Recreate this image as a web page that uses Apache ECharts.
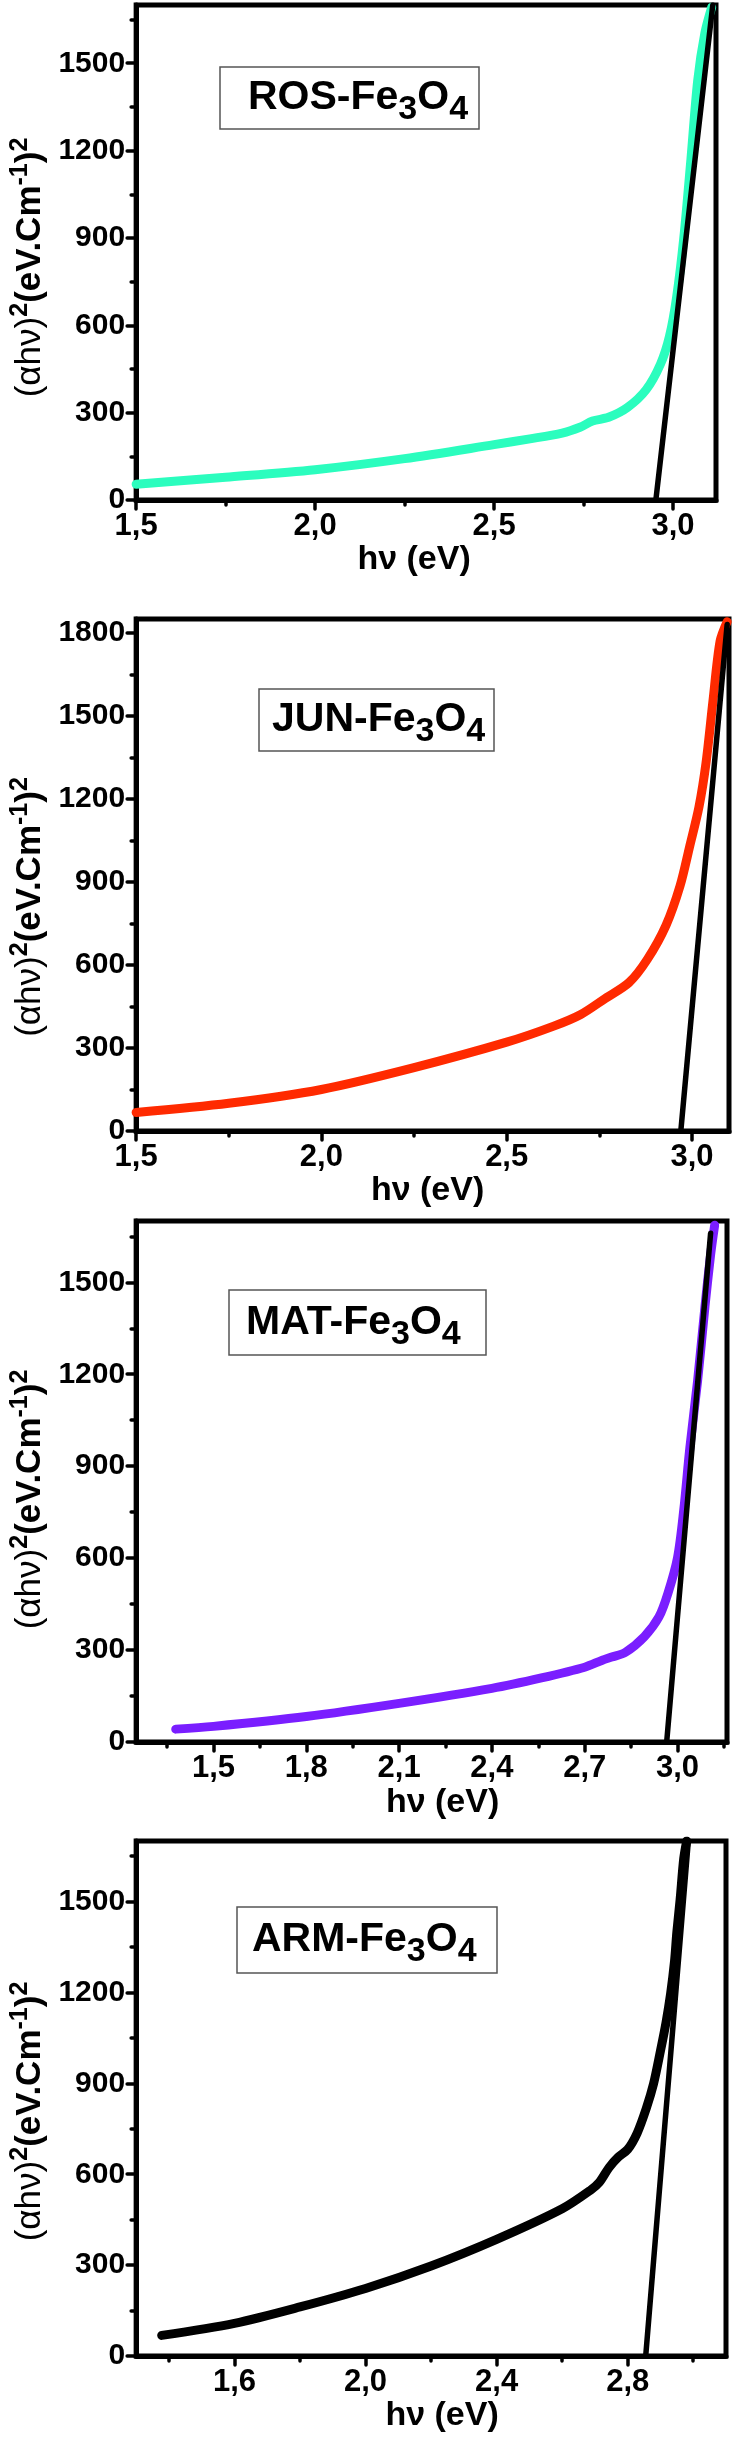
<!DOCTYPE html>
<html><head><meta charset="utf-8">
<script src="https://cdn.jsdelivr.net/npm/echarts@6/dist/echarts.min.js"></script>
<style>html,body{margin:0;padding:0;background:#fff}#c{width:733px;height:2437px}</style>
</head><body><div id="c"></div>
<script>
// ---------- data ----------
const sampleNames = ['ROS', 'JUN', 'MAT', 'ARM'];
const rosX = [1.5, 1.75, 2.0, 2.25, 2.5, 2.6, 2.69, 2.74, 2.775, 2.82, 2.873, 2.925, 2.965, 2.99, 3.01, 3.03, 3.05, 3.069, 3.089, 3.108];
const rosY = [54, 78, 104, 142, 190, 210, 230, 250, 271, 284, 318, 379, 467, 562, 697, 900, 1171, 1442, 1604, 1692];
const junX = [1.5, 1.75, 2.0, 2.25, 2.5, 2.627, 2.70, 2.766, 2.83, 2.88, 2.93, 2.968, 2.994, 3.019, 3.038, 3.057, 3.076, 3.095];
const junY = [67, 100, 150, 229, 321, 379, 421, 479, 536, 621, 743, 886, 1029, 1171, 1330, 1557, 1770, 1840];
const matX = [1.378, 1.5, 1.8, 2.1, 2.4, 2.56, 2.7, 2.757, 2.787, 2.832, 2.893, 2.94, 2.969, 3.0, 3.02, 3.04, 3.065, 3.089, 3.107, 3.12];
const matY = [42, 51, 83, 126, 175, 209, 244, 267, 277, 293, 344, 408, 485, 601, 755, 961, 1179, 1423, 1590, 1686];
const armX = [1.378, 1.6, 1.8, 2.0, 2.2, 2.4, 2.6, 2.686, 2.714, 2.743, 2.77, 2.8, 2.829, 2.857, 2.879, 2.9, 2.917, 2.931, 2.943, 2.95, 2.96, 2.971, 2.98];
const armY = [68, 108, 162, 223, 297, 385, 486, 547, 574, 622, 655, 682, 736, 818, 899, 1007, 1101, 1196, 1304, 1399, 1507, 1642, 1700];
// linear (Tauc) fits: endpoints
const rosFitX = [2.952, 3.111], rosFitY = [0, 1700];
const junFitX = [2.97, 3.095],  junFitY = [0, 1830];
const matFitX = [2.965, 3.107], matFitY = [0, 1660];
const armFitX = [2.855, 2.985], armFitY = [0, 1700];
// axis ranges and ticks
const xMin = [1.5, 1.5, 1.25, 1.3];
const xMax = [3.12, 3.10, 3.16, 3.1];
const yMax = [1700, 1850, 1700, 1700];
const xTicks = [[1.5, 2.0, 2.5, 3.0], [1.5, 2.0, 2.5, 3.0], [1.5, 1.8, 2.1, 2.4, 2.7, 3.0], [1.6, 2.0, 2.4, 2.8]];
const xMinorTicks = [[1.75, 2.25, 2.75], [1.75, 2.25, 2.75], [1.35, 1.65, 1.95, 2.25, 2.55, 2.85, 3.15], [1.4, 1.8, 2.2, 2.6, 3.0]];
const yTicks = [[0, 300, 600, 900, 1200, 1500], [0, 300, 600, 900, 1200, 1500, 1800], [0, 300, 600, 900, 1200, 1500], [0, 300, 600, 900, 1200, 1500]];
const yMinorTicks = [[150, 450, 750, 1050, 1350, 1650], [150, 450, 750, 1050, 1350, 1650], [150, 450, 750, 1050, 1350, 1650], [150, 450, 750, 1050, 1350, 1650]];

// ---------- layout / style ----------
const FONT = "'Liberation Sans', Arial, sans-serif";
const curves = [[rosX, rosY], [junX, junY], [matX, matY], [armX, armY]];
const fits = [[rosFitX, rosFitY], [junFitX, junFitY], [matFitX, matFitY], [armFitX, armFitY]];
const colors = ['#2BFDBE', '#FF2A00', '#7A1EFF', '#000000'];
const grids = [
  {left: 136, top: 5, width: 580, height: 495},
  {left: 136, top: 619, width: 593, height: 512},
  {left: 136, top: 1221, width: 591, height: 521},
  {left: 136, top: 1841, width: 590, height: 515}
];
const xNameGap = [40, 34, 44, 40];
const xNamePad = [[0, 24, 0, 0], [0, 10, 0, 0], [0, 0, 0, 22], [0, 0, 0, 22]];
const yNamePad = [[0, 30, 0, 0], [0, 64, 0, 0], [0, 36, 0, 0], [0, 26, 0, 0]];
const boxes = [
  {x: 220, y: 67, w: 259, h: 62, tx: 248},
  {x: 259, y: 689, w: 235, h: 62, tx: 272},
  {x: 229, y: 1290, w: 257, h: 65, tx: 246},
  {x: 237, y: 1907, w: 260, h: 66, tx: 252}
];

const zip = (a, b) => a.map((v, i) => [v, b[i]]);
const tickStyle = {color: '#000', width: 3.5, cap: 'round'};

const xAxis = [], yAxis = [], series = [], graphic = [];
grids.forEach((g, i) => {
  xAxis.push({
    gridIndex: i, type: 'value', min: xMin[i], max: xMax[i], position: 'bottom',
    axisLine: {show: true, onZero: false, lineStyle: {color: '#000', width: 5}},
    axisTick: {show: true, customValues: xTicks[i], length: 9, lineStyle: tickStyle},
    axisLabel: {customValues: xTicks[i], formatter: v => v.toFixed(1).replace('.', ','),
      fontSize: 31, fontWeight: 'bold', color: '#000', fontFamily: FONT, margin: 11},
    splitLine: {show: false},
    name: 'hν (eV)', nameLocation: 'middle', nameGap: xNameGap[i],
    nameTextStyle: {fontSize: 34, fontWeight: 'bold', color: '#000', fontFamily: FONT, padding: xNamePad[i]}
  });
  xAxis.push({
    gridIndex: i, type: 'value', min: xMin[i], max: xMax[i], position: 'bottom',
    axisLine: {show: false, onZero: false},
    axisTick: {show: true, customValues: xMinorTicks[i], length: 5, lineStyle: tickStyle},
    axisLabel: {show: false}, splitLine: {show: false}
  });
  yAxis.push({
    gridIndex: i, type: 'value', min: 0, max: yMax[i], position: 'left',
    axisLine: {show: true, onZero: false, lineStyle: {color: '#000', width: 5}},
    axisTick: {show: true, customValues: yTicks[i], length: 9, lineStyle: tickStyle},
    axisLabel: {customValues: yTicks[i], formatter: v => String(v),
      fontSize: 30, fontWeight: 'bold', color: '#000', fontFamily: FONT, margin: 11},
    splitLine: {show: false},
    name: '{a|(αhν)}{sup|2}{b|(eV.Cm}{sup|-1}{b|)}{sup|2}',
    nameLocation: 'middle', nameRotate: 90, nameGap: 67,
    nameTextStyle: {
      padding: yNamePad[i],
      rich: {
        a: {fontSize: 35, fontWeight: 'normal', fontFamily: FONT, color: '#000', lineHeight: 44},
        b: {fontSize: 35, fontWeight: 'bold', fontFamily: FONT, color: '#000', lineHeight: 44},
        sup: {fontSize: 25, fontWeight: 'bold', fontFamily: FONT, color: '#000', verticalAlign: 'top'}
      }
    }
  });
  yAxis.push({
    gridIndex: i, type: 'value', min: 0, max: yMax[i], position: 'left',
    axisLine: {show: false, onZero: false},
    axisTick: {show: true, customValues: yMinorTicks[i], length: 5, lineStyle: tickStyle},
    axisLabel: {show: false}, splitLine: {show: false}
  });
  series.push({
    type: 'line', name: sampleNames[i], xAxisIndex: 2 * i, yAxisIndex: 2 * i,
    data: zip(curves[i][0], curves[i][1]), symbol: 'none', smooth: 0.3,
    lineStyle: {color: colors[i], width: 9, cap: 'round', join: 'round'}, z: 2, clip: true
  });
  series.push({
    type: 'line', name: sampleNames[i] + ' fit', xAxisIndex: 2 * i, yAxisIndex: 2 * i,
    data: zip(fits[i][0], fits[i][1]), symbol: 'none',
    lineStyle: {color: '#000', width: 5.5, cap: 'round'}, z: 3, clip: true
  });
  const b = boxes[i];
  graphic.push({
    type: 'rect', shape: {x: b.x, y: b.y, width: b.w, height: b.h},
    style: {fill: '#fff', stroke: '#555', lineWidth: 1.5}, z: 10
  });
  graphic.push({
    type: 'text', z: 11,
    style: {
      x: b.tx, y: b.y + b.h / 2, align: 'left', verticalAlign: 'middle',
      text: '{m|' + sampleNames[i] + '-Fe}{s|3}{m|O}{s|4}',
      rich: {
        m: {fontSize: 41, fontWeight: 'bold', fontFamily: FONT, fill: '#000', lineHeight: 58},
        s: {fontSize: 34, fontWeight: 'bold', fontFamily: FONT, fill: '#000', verticalAlign: 'bottom'}
      }
    }
  });
});

const chart = echarts.init(document.getElementById('c'), null, {renderer: 'canvas'});
chart.setOption({
  animation: false,
  backgroundColor: '#fff',
  grid: grids.map(g => Object.assign({show: true, borderColor: '#000', borderWidth: 5, backgroundColor: 'transparent', containLabel: false}, g)),
  xAxis, yAxis, series, graphic
});
</script></body></html>
